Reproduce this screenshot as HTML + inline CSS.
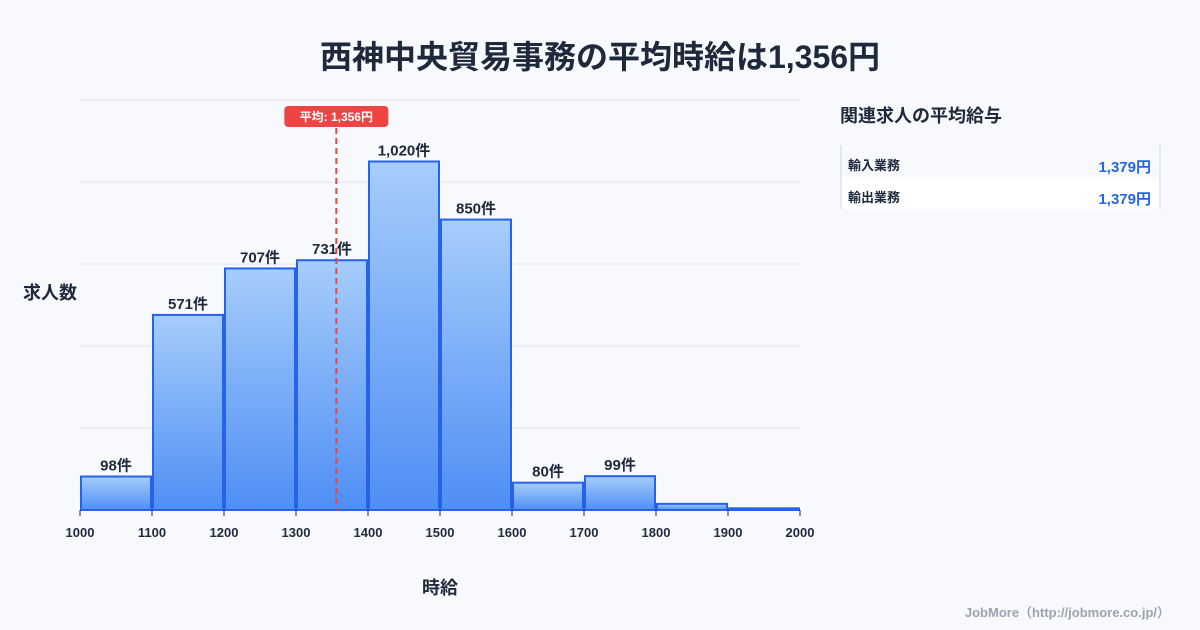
<!DOCTYPE html>
<html><head><meta charset="utf-8">
<style>
body{margin:0;background:#f7f9fc;font-family:"Liberation Sans","Noto Sans CJK JP",sans-serif;}
#wrap{position:relative;width:1200px;height:630px;overflow:hidden;background:#f7f9fc;}
</style></head>
<body>
<div id="wrap">
<svg id="chart" width="1200" height="630" style="position:absolute;left:0;top:0">
<defs>
<linearGradient id="g" x1="0" y1="0" x2="0" y2="1">
<stop offset="0" stop-color="#a6cdfb"/><stop offset="1" stop-color="#4f8ef5"/>
</linearGradient>
</defs>
<text x="600" y="68" text-anchor="middle" font-size="32" font-weight="bold" fill="#1e293b" style="paint-order:stroke" stroke="#c8d0dc" stroke-width="0">西神中央貿易事務の平均時給は1,356円</text>
<g id="grid"></g>
<g id="bars"></g>
<g id="labels"></g>
<g id="ticks"></g>
<text x="50" y="299" text-anchor="middle" font-size="18" font-weight="bold" fill="#1e293b">求人数</text>
<text x="440" y="594" text-anchor="middle" font-size="18" font-weight="bold" fill="#1e293b">時給</text>
<g id="avg"></g>
<text x="840" y="122" font-size="18" font-weight="bold" fill="#1e293b">関連求人の平均給与</text>
<rect x="840" y="145" width="320" height="32" fill="#f7f9fc"/>
<rect x="840" y="177" width="320" height="32" fill="#ffffff"/>
<line x1="841" y1="145" x2="841" y2="209" stroke="#cbd5e1"/>
<line x1="1160" y1="145" x2="1160" y2="209" stroke="#cbd5e1"/>
<text x="848" y="170" font-size="13" font-weight="bold" fill="#1e293b">輸入業務</text>
<text x="1151" y="172" text-anchor="end" font-size="15" font-weight="bold" fill="#2563eb">1,379円</text>
<text x="848" y="202" font-size="13" font-weight="bold" fill="#1e293b">輸出業務</text>
<text x="1151" y="204" text-anchor="end" font-size="15" font-weight="bold" fill="#2563eb">1,379円</text>
<text x="1170" y="617" text-anchor="end" font-size="13" font-weight="bold" fill="#9ca3af">JobMore（http://jobmore.co.jp/）</text>
</svg>
</div>
<script>
const binStarts=[1000,1100,1200,1300,1400,1500,1600,1700,1800,1900];
const counts=[98,571,707,731,1020,850,80,99,18,5];
const countLabels=["98件","571件","707件","731件","1,020件","850件","80件","99件","",""];
const xTicks=[1000,1100,1200,1300,1400,1500,1600,1700,1800,1900,2000];
const gridValues=[0,240,480,720,960,1200];
const avgValue=1356;
const avgLabel="平均: 1,356円";
const NS="http://www.w3.org/2000/svg";
const x=v=>80+(v-1000)*0.72;
const y=v=>510-v*410/1200;
function mk(t,a,p){const e=document.createElementNS(NS,t);for(const k in a)e.setAttribute(k,a[k]);p.appendChild(e);return e;}
const G=document.getElementById('grid'),B=document.getElementById('bars'),L=document.getElementById('labels'),T=document.getElementById('ticks'),A=document.getElementById('avg');
gridValues.forEach(v=>{const l=mk('line',{x1:80,x2:800,y1:y(v),y2:y(v),stroke:'#e2e8f0','stroke-width':1},G);

});
binStarts.forEach((b,i)=>{const x0=x(b)+1,x1=x(b+100)-1,top=y(counts[i]);
const r=mk('rect',{x:x0,y:top,width:x1-x0,height:510-top,fill:'url(#g)',stroke:'#2563eb','stroke-width':2},B);


if(countLabels[i]){const t=mk('text',{x:(x0+x1)/2,y:top-6,'text-anchor':'middle','font-size':15,'font-weight':'bold',fill:'#1e293b'},L);t.textContent=countLabels[i];

}});
xTicks.forEach(v=>{mk('line',{x1:x(v),x2:x(v),y1:510,y2:516,stroke:'#1e293b'},T);
const t=mk('text',{x:x(v),y:537,'text-anchor':'middle','font-size':13,'font-weight':'bold',fill:'#1e293b'},T);t.textContent=v;

});
const ax=x(avgValue);
const al=mk('line',{x1:ax,x2:ax,y1:128,y2:510,stroke:'#dc4a4a','stroke-width':2,'stroke-dasharray':'6,4'},A);


const ab=mk('rect',{x:ax-52,y:106,width:104,height:21,rx:4,fill:'#ef4444'},A);


const at=mk('text',{x:ax,y:121,'text-anchor':'middle','font-size':12,'font-weight':'bold',fill:'#fff'},A);at.textContent=avgLabel;


</script>
</body></html>
